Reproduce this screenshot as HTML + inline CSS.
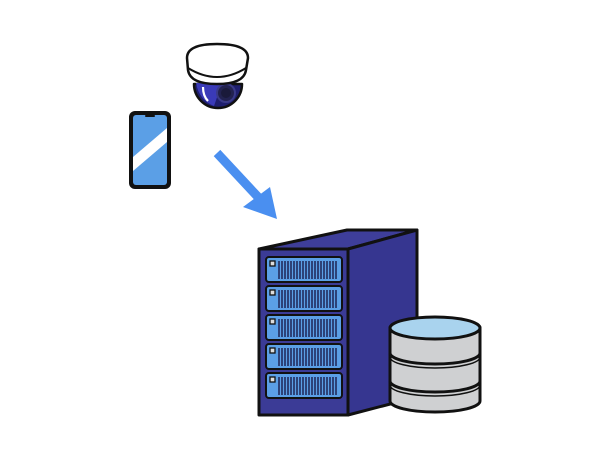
<!DOCTYPE html>
<html><head><meta charset="utf-8"><style>html,body{margin:0;padding:0;background:#fff}svg{display:block}</style></head>
<body>
<svg width="608" height="456" viewBox="0 0 608 456" xmlns="http://www.w3.org/2000/svg">
<!-- camera -->
<g stroke="#111" stroke-width="2.5" stroke-linejoin="round">
<path d="M194,84 A24,24 0 0 0 242,84 Z" fill="#1e1e6e"/>
<path d="M196,83 Q199,100 214,106 L222,83 Z" fill="#3a3ab8" stroke="none"/>
<circle cx="226" cy="93" r="9" fill="#222250" stroke="#3a3a88" stroke-width="2"/>
<circle cx="226" cy="93" r="5" fill="#1a1a3a" stroke="none"/>
<path d="M203,87 Q203,96 208,101" stroke="#fff" stroke-width="2.2" fill="none"/>
<path d="M188,70 L187,58 Q187,44 217,44 Q248,44 248,58 L246,70 Q244,84 217,84 Q190,84 188,70 Z" fill="#fff"/>
<path d="M188,68 Q217,86 246,68" fill="none" stroke-width="2"/>
</g>
<!-- phone -->
<rect x="129" y="111" width="42" height="78" rx="6" fill="#111"/>
<rect x="133" y="115" width="34" height="70" rx="3" fill="#5b9fe6"/>
<polygon points="133,157 167,128 167,142 133,171" fill="#fff"/>
<rect x="145" y="115" width="10" height="2" rx="1" fill="#111"/>
<!-- arrow -->
<line x1="217" y1="153" x2="258" y2="197" stroke="#4a8ff0" stroke-width="9"/>
<polygon points="243,207 270,187 277,219" fill="#4a8ff0"/>
<!-- server -->
<g stroke="#111" stroke-width="3" stroke-linejoin="round">
<polygon points="259,249 348,249 417,230 347,230" fill="#3e3e9a"/>
<polygon points="348,249 417,230 417,397 348,415" fill="#363690"/>
<rect x="259" y="249" width="89" height="166" fill="#3b3b96"/>
</g>
<g stroke="#111" stroke-width="2">
<rect x="266" y="257" width="76" height="25" rx="3" fill="#5b9fe6"/>
<rect x="266" y="286" width="76" height="25" rx="3" fill="#5b9fe6"/>
<rect x="266" y="315" width="76" height="25" rx="3" fill="#5b9fe6"/>
<rect x="266" y="344" width="76" height="25" rx="3" fill="#5b9fe6"/>
<rect x="266" y="373" width="76" height="25" rx="3" fill="#5b9fe6"/>
</g>
<g fill="#ddd" stroke="#111" stroke-width="1.3">
<rect x="270" y="261" width="5" height="5"/><rect x="270" y="290" width="5" height="5"/><rect x="270" y="319" width="5" height="5"/><rect x="270" y="348" width="5" height="5"/><rect x="270" y="377" width="5" height="5"/>
</g>
<g stroke="#1a1a4a" stroke-width="1.4">
<path d="M279,261v18M282,261v18M285,261v18M288,261v18M291,261v18M294,261v18M297,261v18M300,261v18M303,261v18M306,261v18M309,261v18M312,261v18M315,261v18M318,261v18M321,261v18M324,261v18M327,261v18M330,261v18M333,261v18M336,261v18"/>
<path d="M279,290v18M282,290v18M285,290v18M288,290v18M291,290v18M294,290v18M297,290v18M300,290v18M303,290v18M306,290v18M309,290v18M312,290v18M315,290v18M318,290v18M321,290v18M324,290v18M327,290v18M330,290v18M333,290v18M336,290v18"/>
<path d="M279,319v18M282,319v18M285,319v18M288,319v18M291,319v18M294,319v18M297,319v18M300,319v18M303,319v18M306,319v18M309,319v18M312,319v18M315,319v18M318,319v18M321,319v18M324,319v18M327,319v18M330,319v18M333,319v18M336,319v18"/>
<path d="M279,348v18M282,348v18M285,348v18M288,348v18M291,348v18M294,348v18M297,348v18M300,348v18M303,348v18M306,348v18M309,348v18M312,348v18M315,348v18M318,348v18M321,348v18M324,348v18M327,348v18M330,348v18M333,348v18M336,348v18"/>
<path d="M279,377v18M282,377v18M285,377v18M288,377v18M291,377v18M294,377v18M297,377v18M300,377v18M303,377v18M306,377v18M309,377v18M312,377v18M315,377v18M318,377v18M321,377v18M324,377v18M327,377v18M330,377v18M333,377v18M336,377v18"/>
</g>
<!-- database -->
<g stroke="#111" stroke-width="3">
<path d="M390,328 L390,401 A45,11 0 0 0 480,401 L480,328 Z" fill="#cfd0d2"/>
<path d="M390,353 A45,11 0 0 0 480,353" fill="none"/>
<path d="M390,357 A45,11 0 0 0 480,357" fill="none" stroke-width="1.5"/>
<path d="M390,381 A45,11 0 0 0 480,381" fill="none"/>
<path d="M390,385 A45,11 0 0 0 480,385" fill="none" stroke-width="1.5"/>
<ellipse cx="435" cy="328" rx="45" ry="11" fill="#a9d3ee"/>
</g>
</svg>
</body></html>
